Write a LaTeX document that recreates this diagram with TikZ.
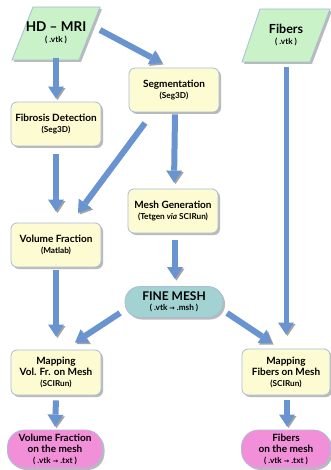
\documentclass[tikz,border=0pt]{standalone}
\usepackage{fontspec}
\setmainfont{Lato}
\usetikzlibrary{arrows.meta,shadows,calc}
\definecolor{boxfill}{HTML}{FDFBD2}
\definecolor{boxline}{HTML}{A9BCD8}
\definecolor{paragreen}{HTML}{C9F2C9}
\definecolor{meshteal}{HTML}{A2D2D2}
\definecolor{outpink}{HTML}{F28FD9}
\definecolor{arrowblue}{HTML}{6A94CF}
\definecolor{shadowgray}{HTML}{8C8C8C}
\newcommand\smalltxt[1]{{\fontsize{8.2}{10}\selectfont #1}}
\newcommand\arrowsym{{\fontspec{DejaVu Sans}\fontsize{6.5}{8}\selectfont→}}
\tikzset{
  shad/.style={drop shadow={shadow xshift=2pt,shadow yshift=-2pt,fill=shadowgray,opacity=.6}},
  box/.style={draw=boxline, line width=0.8pt, fill=boxfill, rounded corners=6pt,
    minimum width=90pt, minimum height=44pt, align=center, inner sep=1pt,
    font=\bfseries\fontsize{10}{11}\selectfont, shad},
  capsule/.style={draw=boxline, line width=0.8pt, rounded corners=15pt,
    align=center, inner sep=1pt, font=\bfseries\fontsize{10}{11}\selectfont, shad},
  para/.style={draw=boxline, line width=0.8pt, fill=paragreen},
  parashadow/.style={fill=shadowgray, opacity=.6},
  paratext/.style={align=center, inner sep=0pt, minimum width=67pt, minimum height=53pt},
  arr/.style={draw=arrowblue, line width=6pt,
    -{Triangle[length=12pt,width=16pt,line width=0pt]},
    preaction={draw=shadowgray!80, transform canvas={xshift=1.5pt,yshift=-1.5pt}}},
  thinarr/.style={arr, line width=5pt}
}
\begin{document}
\begin{tikzpicture}[x=1pt,y=-1pt]
\useasboundingbox (0,0) rectangle (331,470);
% parallelograms
\fill[parashadow] (14,62) -- (35,9) -- (102,9) -- (81,62) -- cycle;
\filldraw[para] (12,60) -- (33,7) -- (100,7) -- (79,60) -- cycle;
\node[paratext] (hd) at (56,33) {{\bfseries\fontsize{13.5}{15}\selectfont HD -- MRI}\\[-1pt]\smalltxt{\bfseries( .vtk )}};
\fill[parashadow] (244,64) -- (262,11) -- (332,11) -- (312,64) -- cycle;
\filldraw[para] (242,62) -- (260,9) -- (330,9) -- (310,62) -- cycle;
\node[paratext] (fibers) at (286,35) {{\bfseries\fontsize{12.5}{14}\selectfont Fibers}\\[-1pt]\smalltxt{\bfseries( .vtk )}};

% boxes
\node[box] (seg) at (174,90) {Segmentation\\\smalltxt{(Seg3D)}};
\node[box] (fib) at (56,124) {Fibrosis Detection\\\smalltxt{(Seg3D)}};
\node[box] (vol) at (56,245) {Volume Fraction\\\smalltxt{(Matlab)}};
\node[box] (mesh) at (173,211) {Mesh Generation\\\smalltxt{(Tetgen \textit{via} SCIRun)}};
\node[capsule, fill=meshteal, minimum width=98pt, minimum height=31pt] (fine) at (174,302)
  {{\fontsize{12}{13}\selectfont FINE MESH}\\[-1pt]\smalltxt{( .vtk \arrowsym\ .msh )}};
\node[box, minimum height=45pt] (mapvol) at (56,372.5) {Mapping\\Vol. Fr. on Mesh\\\smalltxt{(SCIRun)}};
\node[box, minimum width=88pt, minimum height=46pt] (mapfib) at (286,372) {Mapping\\Fibers on Mesh\\\smalltxt{(SCIRun)}};
\node[capsule, fill=outpink, minimum width=95pt, minimum height=38pt, rounded corners=17pt] (volmesh) at (55,449)
  {Volume Fraction\\on the mesh\\\smalltxt{( .vtk \arrowsym\ .txt )}};
\node[capsule, fill=outpink, minimum width=89pt, minimum height=38pt, rounded corners=17pt] (fibmesh) at (286,449)
  {Fibers\\on the mesh\\\smalltxt{( .vtk \arrowsym\ .txt )}};

% arrows
\draw[arr] ($(hd.south)+(0,-2)$) -- ($(fib.north)+(0,-3)$);
\draw[arr] ($(hd.center)+(44,-3)$) -- ($(seg.center)+(-12,-27)$);
\draw[arr] ($(seg.center)+(-29,33)$) -- ($(vol.center)+(22,-32)$);
\draw[arr] ($(seg.south)+(1,2)$) -- ($(mesh.north)+(1,-6)$);
\draw[arr] ($(fib.south)+(0,8)$) -- ($(vol.north)+(0,-11)$);
\draw[arr] ($(mesh.south)+(2,7)$) -- ($(fine.north)+(1,-7)$);
\draw[arr] ($(vol.south)+(0,3)$) -- ($(mapvol.north)+(0,-13)$);
\draw[arr] ($(fine.center)+(-54,11)$) -- ($(mapvol.center)+(19,-30)$);
\draw[arr] ($(fine.center)+(53,11)$) -- ($(mapfib.center)+(-14,-29)$);
\draw[thinarr] ($(fibers.south)+(0,5)$) -- ($(mapfib.north)+(0,-14)$);
\draw[arr] ($(mapvol.south)+(0,5)$) -- ($(volmesh.north)+(0,-3)$);
\draw[arr] ($(mapfib.south)+(1,5)$) -- ($(fibmesh.north)+(1,-3)$);
\end{tikzpicture}
\end{document}
